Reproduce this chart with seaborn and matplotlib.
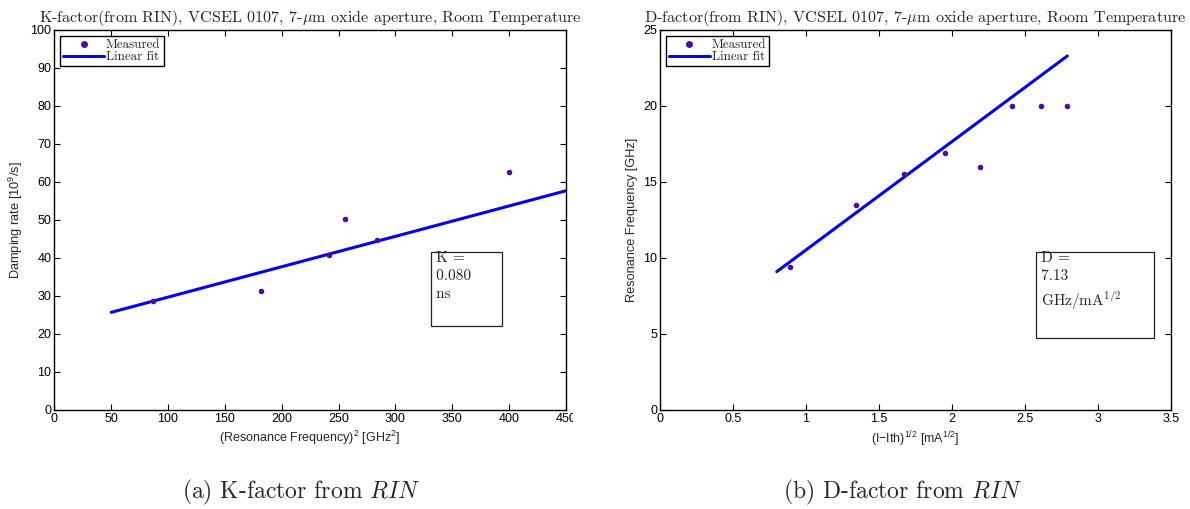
import numpy as np
import pandas as pd
import matplotlib
matplotlib.use("Agg")
import matplotlib.pyplot as plt
import seaborn as sns
from matplotlib.patches import Rectangle
from matplotlib.lines import Line2D
from matplotlib.transforms import Bbox

# K-factor: damping rate against squared resonance frequency
fr2_ghz2 = [87, 182, 242, 256, 284, 400]
damping_rate = [28.8, 31.3, 40.9, 50.3, 44.7, 62.6]
k_slope = 0.080        # ns
k_intercept = 21.7
k_fit_x = [50, 450]

# D-factor: resonance frequency against sqrt(I - Ith)
sqrt_i = [0.89, 1.34, 1.67, 1.95, 2.19, 2.41, 2.61, 2.79]
f_res = [9.4, 13.5, 15.5, 16.9, 16.0, 20.0, 20.0, 20.0]
d_slope = 7.13         # GHz/mA^1/2
d_intercept = 3.40
d_fit_x = [0.80, 2.79]

k_xticks = [0, 50, 100, 150, 200, 250, 300, 350, 400, 450]
k_yticks = [0, 10, 20, 30, 40, 50, 60, 70, 80, 90, 100]
d_xticks = [0, 0.5, 1, 1.5, 2, 2.5, 3, 3.5]
d_yticks = [0, 5, 10, 15, 20, 25]

sns.set_style("ticks")
plt.rcParams.update({
    "font.family": ["Liberation Sans", "DejaVu Sans"],
    "mathtext.fontset": "custom",
    "mathtext.rm": "Liberation Sans",
    "mathtext.it": "Liberation Sans:italic",
    "mathtext.bf": "Liberation Sans:bold",
    "xtick.direction": "in",
    "ytick.direction": "in",
    "xtick.top": True,
    "ytick.right": True,
    "xtick.major.size": 4,
    "ytick.major.size": 4,
    "xtick.major.width": 0.8,
    "ytick.major.width": 0.8,
    "axes.linewidth": 1.0,
    "axes.edgecolor": "black",
    "xtick.color": "black",
    "ytick.color": "black",
})

SERIF = "cmr10"
DOT = "#500a9c"
LINE = "#0000ff"

fig = plt.figure(figsize=(11.9, 5.09), dpi=100)
W, H = 1190, 509
ax1 = fig.add_axes([54.3 / W, 1 - 410 / H, (566 - 54.3) / W, (410 - 30) / H])
ax2 = fig.add_axes([660 / W, 1 - 410 / H, (1171 - 660) / W, (410 - 30) / H])

k_df = pd.DataFrame({"x": fr2_ghz2, "y": damping_rate})
k_fit = pd.DataFrame({"x": k_fit_x, "y": [k_intercept + k_slope * v for v in k_fit_x]})
d_df = pd.DataFrame({"x": sqrt_i, "y": f_res})
d_fit = pd.DataFrame({"x": d_fit_x, "y": [d_intercept + d_slope * v for v in d_fit_x]})


def fmt(v):
    return "%g" % v


def draw_panel(ax, pts, fit, xticks, yticks, title, xlabel, ylabel, box, box_lines):
    sns.lineplot(data=fit, x="x", y="y", ax=ax, color=LINE, lw=2.2, zorder=2)
    sns.scatterplot(data=pts, x="x", y="y", ax=ax, color=DOT, s=16,
                    edgecolor=DOT, linewidth=0, zorder=3)
    ax.set_xlim(xticks[0], xticks[-1])
    ax.set_ylim(yticks[0], yticks[-1])
    ax.set_xticks(xticks)
    ax.set_yticks(yticks)
    ax.set_xticklabels([fmt(v) for v in xticks], fontsize=9)
    ax.set_yticklabels([fmt(v) for v in yticks], fontsize=9)
    ax.tick_params(pad=2)
    for s in ax.spines.values():
        s.set_visible(True)
    ax.set_xlabel(xlabel, fontsize=9, labelpad=3)
    ax.set_ylabel(ylabel, fontsize=9.2, labelpad=4)
    ax.set_title(title, fontsize=11.6, family=SERIF, math_fontfamily="cm", pad=6)

    handles = [
        Line2D([], [], ls="none", marker="o", ms=4, color=DOT, mec=DOT),
        Line2D([], [], color=LINE, lw=2.2),
    ]
    leg = ax.legend(handles, ["Measured", "Linear fit"], loc="upper left",
                    prop={"family": SERIF, "size": 9.4}, frameon=True,
                    fancybox=False, framealpha=1, edgecolor="black",
                    borderpad=0.25, labelspacing=-0.02, handlelength=3.1,
                    handletextpad=0.15, borderaxespad=0.45)
    leg.get_frame().set_linewidth(1.0)

    x0, y0, x1, y1 = box
    ax.add_patch(Rectangle((x0, y0), x1 - x0, y1 - y0, transform=ax.transData,
                           fill=False, ec="#222222", lw=0.9, zorder=4))
    ax.text(x0, y1, box_lines, transform=ax.transData, ha="left", va="top",
            family=SERIF, math_fontfamily="cm", fontsize=11, linespacing=1.4,
            zorder=5)


draw_panel(ax1, k_df, k_fit, k_xticks, k_yticks,
           r"K-factor(from RIN), VCSEL 0107, 7-$\mu$m oxide aperture, Room Temperature",
           r"(Resonance Frequency)$^2$ [GHz$^2$]",
           r"Damping rate [10$^9$/s]",
           (331, 22.1, 393.5, 41.7), " K =\n 0.080\n ns")

draw_panel(ax2, d_df, d_fit, d_xticks, d_yticks,
           r"D-factor(from RIN), VCSEL 0107, 7-$\mu$m oxide aperture, Room Temperature",
           r"(I−Ith)$^{1/2}$ [mA$^{1/2}$]",
           r"Resonance Frequency [GHz]",
           (2.575, 4.76, 3.383, 10.41), " D =\n 7.13\n GHz/mA$^{1/2}$")

# subfigure captions
fig.text(301 / W, 1 - 492 / H, r"(a) K-factor from $RIN$", ha="center", va="center",
         family=SERIF, math_fontfamily="cm", fontsize=17)
fig.text(903 / W, 1 - 492 / H, r"(b) D-factor from $RIN$", ha="center", va="center",
         family=SERIF, math_fontfamily="cm", fontsize=17)

# the left panel is cut at its right edge, so its last tick label is clipped
fig.canvas.draw()
clip = Bbox.from_extents(0, 0, 573, H)
for t in ax1.get_xticklabels():
    t.set_clip_box(clip)
    t.set_clip_on(True)

fig.savefig("out.png", dpi=100)
